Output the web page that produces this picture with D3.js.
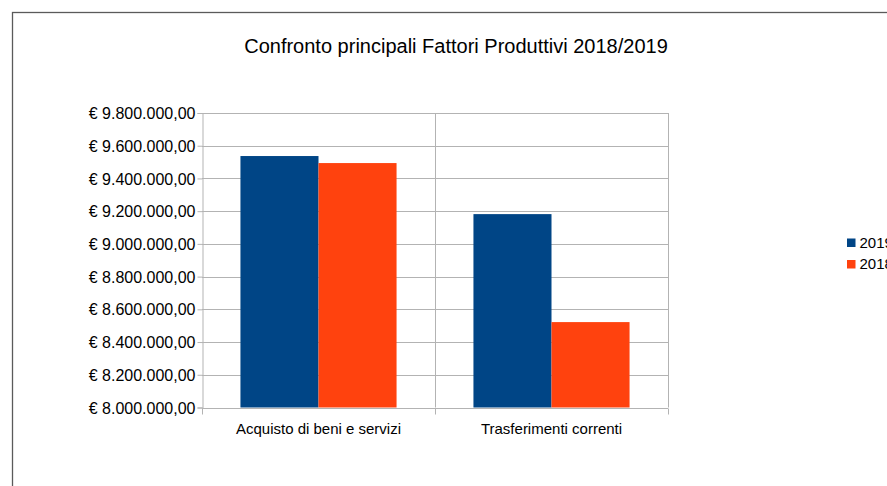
<!DOCTYPE html>
<html>
<head>
<meta charset="utf-8">
<script src="https://cdn.jsdelivr.net/npm/d3@7"></script>
<style>
  html, body { margin: 0; padding: 0; background: #fff; }
  svg { display: block; font-family: "Liberation Sans", Arial, sans-serif; }
</style>
</head>
<body>
<svg id="chart" width="887" height="486"></svg>
<script>
const categories = ["Acquisto di beni e servizi", "Trasferimenti correnti"];
const seriesNames = ["2019", "2018"];
const values2019 = [9537000, 9182000];
const values2018 = [9494000, 8522000];
const yTicks = [8000000, 8200000, 8400000, 8600000, 8800000, 9000000, 9200000, 9400000, 9600000, 9800000];
const colors = ["#004586", "#ff420e"];
const title = "Confronto principali Fattori Produttivi 2018/2019";

const svg = d3.select("#chart");

// outer frame
svg.append("rect")
  .attr("x", 12.5).attr("y", 12.5)
  .attr("width", 900).attr("height", 500)
  .attr("fill", "none").attr("stroke", "#5a5a5a").attr("stroke-width", 1.3);

const plot = { left: 202, right: 668, top: 113, bottom: 407.5 };

const y = d3.scaleLinear().domain([8000000, 9800000]).range([plot.bottom, plot.top]);
const x0 = d3.scaleBand().domain(categories).range([plot.left, plot.right]).padding(0);
const x1 = d3.scaleBand().domain(seriesNames)
  .range([x0.bandwidth() * 0.165, x0.bandwidth() * 0.835]).padding(0);

const fmt = v => {
  const s = d3.format(",.2f")(v);
  return "€ " + s.replace(/,/g, "#").replace(/\./g, ",").replace(/#/g, ".");
};

// horizontal gridlines
svg.append("g").selectAll("line").data(yTicks).join("line")
  .attr("x1", plot.left).attr("x2", plot.right)
  .attr("y1", d => Math.round(y(d)) + 0.5).attr("y2", d => Math.round(y(d)) + 0.5)
  .attr("stroke", "#b3b3b3").attr("stroke-width", 1);

// vertical gridlines at category boundaries
const bounds = categories.map(c => x0(c)).concat([plot.right]);
svg.append("g").selectAll("line").data(bounds.slice(1)).join("line")
  .attr("x1", d => Math.round(d) + 0.5).attr("x2", d => Math.round(d) + 0.5)
  .attr("y1", plot.top).attr("y2", plot.bottom)
  .attr("stroke", "#b3b3b3").attr("stroke-width", 1);

// bars
const data = categories.map((c, i) => ({ cat: c, vals: [values2019[i], values2018[i]] }));
const groups = svg.append("g").selectAll("g").data(data).join("g")
  .attr("transform", d => `translate(${x0(d.cat)},0)`);
groups.selectAll("rect").data(d => d.vals.map((v, j) => ({ name: seriesNames[j], v, j })))
  .join("rect")
  .attr("x", d => x1(d.name))
  .attr("width", x1.bandwidth())
  .attr("y", d => y(d.v))
  .attr("height", d => y(8000000) - y(d.v))
  .attr("fill", d => colors[d.j]);

// y axis
const yAxis = d3.axisLeft(y).tickValues(yTicks).tickFormat(fmt).tickSize(5).tickPadding(2);
const gy = svg.append("g").attr("transform", `translate(${plot.left + 0.5},0)`).call(yAxis);
gy.select(".domain").attr("stroke", "#b3b3b3");
gy.selectAll(".tick line").attr("stroke", "#b3b3b3");
gy.selectAll(".tick text").attr("font-size", 16).attr("fill", "#000")
  .attr("dy", "0.35em")
  .attr("font-family", "Liberation Sans, Arial, sans-serif");

// x axis
const gx = svg.append("g").attr("transform", `translate(0,${Math.round(plot.bottom) + 0.5})`);
gx.append("line").attr("x1", plot.left).attr("x2", plot.right).attr("y1", 0).attr("y2", 0)
  .attr("stroke", "#b3b3b3");
gx.selectAll("line.t").data(bounds).join("line").attr("class", "t")
  .attr("x1", d => Math.round(d) + 0.5).attr("x2", d => Math.round(d) + 0.5)
  .attr("y1", 0).attr("y2", 6).attr("stroke", "#b3b3b3");
gx.selectAll("text").data(categories).join("text")
  .attr("x", d => x0(d) + x0.bandwidth() / 2)
  .attr("y", 25.5)
  .attr("text-anchor", "middle")
  .attr("font-size", 15).attr("fill", "#000")
  .text(d => d);

// title
svg.append("text")
  .attr("x", 456).attr("y", 53)
  .attr("text-anchor", "middle")
  .attr("font-size", 20).attr("fill", "#000")
  .text(title);

// legend
const legend = svg.append("g").selectAll("g").data(seriesNames).join("g")
  .attr("transform", (d, i) => `translate(847,${238.5 + i * 21.5})`);
legend.append("rect").attr("width", 8.5).attr("height", 8.5).attr("fill", (d, i) => colors[i]);
legend.append("text").attr("x", 12.5).attr("y", 9)
  .attr("font-size", 15).attr("fill", "#000").text(d => d);
</script>
</body>
</html>
